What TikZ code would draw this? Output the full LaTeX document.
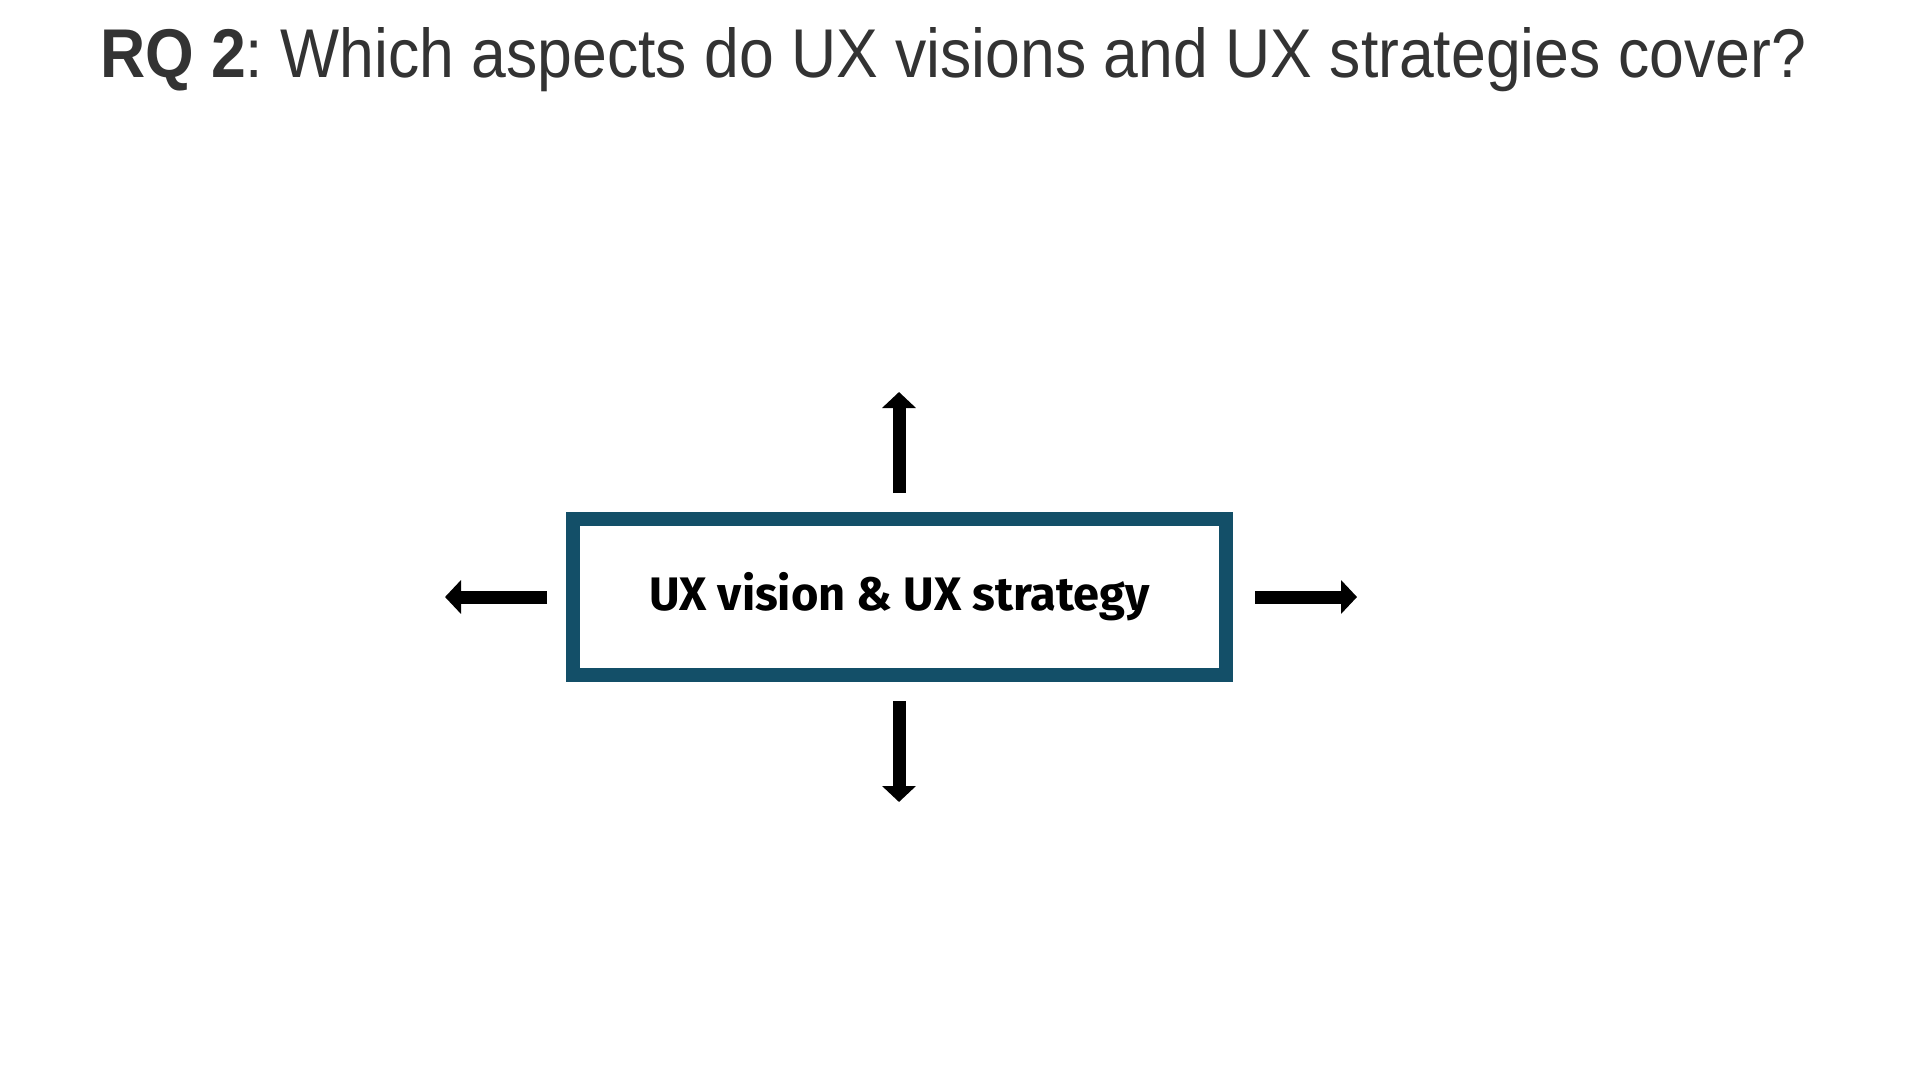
\documentclass[tikz,border=0pt]{standalone}
\usepackage{fontspec}
\setmainfont{Liberation Sans}
\newfontfamily\firabold{Fira Sans}
\usetikzlibrary{arrows.meta}
\definecolor{boxteal}{HTML}{134F68}
\definecolor{titlegray}{HTML}{333333}
\tikzset{
  mainbox/.style={draw=boxteal, line width=7pt, fill=white, minimum width=326.5pt, minimum height=78pt, inner sep=0pt, font=\firabold\bfseries\fontsize{23.5pt}{27pt}\selectfont},
  fatarrow/.style={line width=6.5pt, -{Triangle[width=16.5pt,length=8pt]}, black},
}
\frenchspacing
\begin{document}
\begin{tikzpicture}[x=0.5pt,y=-0.5pt]
\path[fill=white] (0,0) rectangle (1920,1080);
\useasboundingbox (0,0) rectangle (1920,1080);
\node[anchor=base, text=titlegray, inner sep=0pt, font=\fontsize{34.5pt}{40pt}\selectfont] (title) at (953,78) {\scalebox{0.906}[1]{\frenchspacing\textbf{RQ 2}: Which aspects do UX visions and UX strategies cover?}};
\node[mainbox] (box) at (899.5,597) {UX vision \& UX strategy};
\coordinate (u0) at (899,493); \coordinate (u1) at (899,392);
\coordinate (d0) at (899,701); \coordinate (d1) at (899,802);
\coordinate (l0) at (547,597); \coordinate (l1) at (445,597);
\coordinate (r0) at (1255,597); \coordinate (r1) at (1357,597);
\draw[fatarrow] (u0) -- (u1);
\draw[fatarrow] (d0) -- (d1);
\draw[fatarrow] (l0) -- (l1);
\draw[fatarrow] (r0) -- (r1);
\end{tikzpicture}
\end{document}
